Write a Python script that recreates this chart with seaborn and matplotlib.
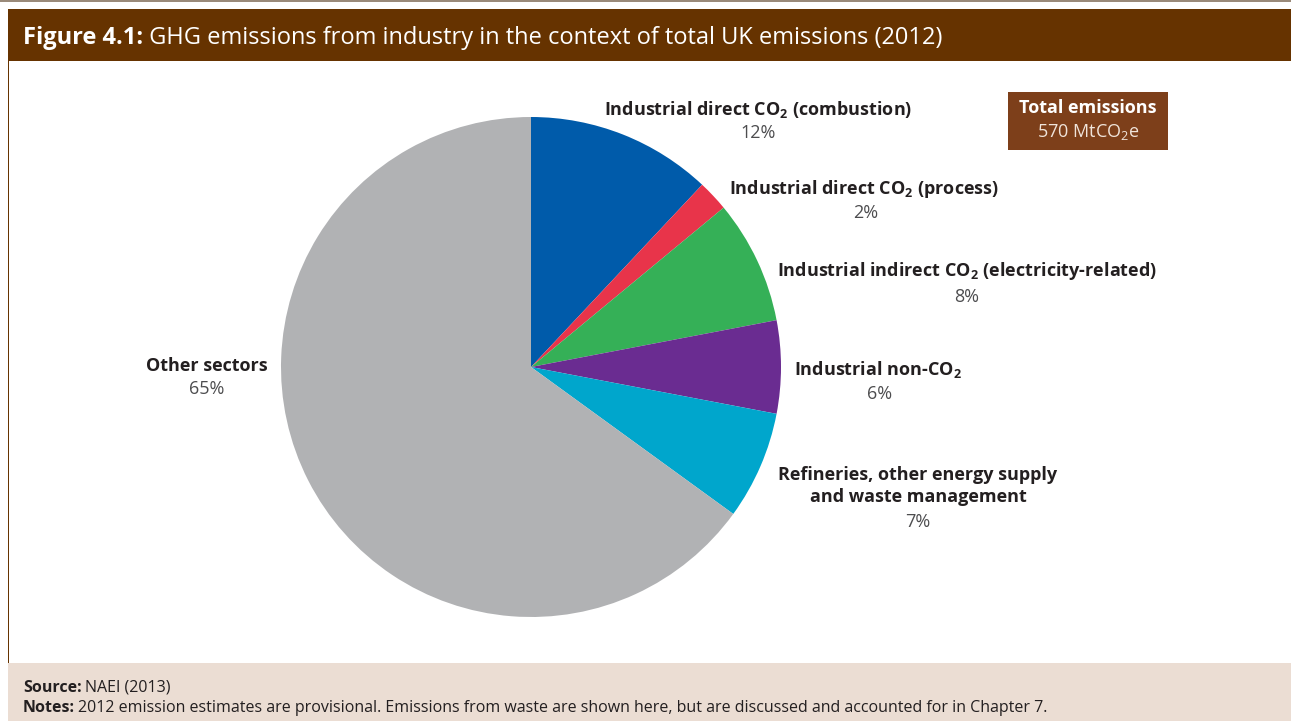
import matplotlib
matplotlib.use("Agg")
import matplotlib.pyplot as plt
import seaborn as sns
from matplotlib.patches import Rectangle

# ---- data ----
categories = [
    "Industrial direct CO$_\\mathbf{2}$ (combustion)",
    "Industrial direct CO$_\\mathbf{2}$ (process)",
    "Industrial indirect CO$_\\mathbf{2}$ (electricity-related)",
    "Industrial non-CO$_\\mathbf{2}$",
    "Refineries, other energy supply\nand waste management",
    "Other sectors",
]
shares = [12, 2, 8, 6, 7, 65]
pct_labels = ["12%", "2%", "8%", "6%", "7%", "65%"]
colors = ["#005BAA", "#E8344A", "#35B057", "#6A2C91", "#00A6CC", "#B1B2B4"]

title_bold = "Figure 4.1:"
title_rest = " GHG emissions from industry in the context of total UK emissions (2012)"
total_title = "Total emissions"
total_value = "570 MtCO$_2$e"
source_text = "NAEI (2013)"
notes_text = ("2012 emission estimates are provisional. Emissions from waste are shown here, "
              "but are discussed and accounted for in Chapter 7.")

# ---- style ----
sns.set_theme(style="white")
plt.rcParams["font.family"] = ["Open Sans", "DejaVu Sans"]
plt.rcParams["mathtext.fontset"] = "custom"
plt.rcParams["mathtext.rm"] = "Open Sans"
plt.rcParams["mathtext.it"] = "Open Sans"
plt.rcParams["mathtext.bf"] = "Open Sans:bold"

W, H = 1291, 721
fig = plt.figure(figsize=(W / 100, H / 100), dpi=100)
fig.patch.set_facecolor("white")

# background axes in pixel coordinates
bg = fig.add_axes([0, 0, 1, 1])
bg.set_xlim(0, W)
bg.set_ylim(H, 0)
bg.axis("off")

BROWN = "#663300"
bg.add_patch(Rectangle((0, 0), W, 1.5, color="#9A8A7A", lw=0))
bg.add_patch(Rectangle((8, 9), W - 8, 52, color=BROWN, lw=0))
bg.add_patch(Rectangle((8, 61), 1.3, 602, color=BROWN, lw=0))
bg.add_patch(Rectangle((8, 663), W - 8, 58, color="#EBDDD3", lw=0))

blend = matplotlib.transforms.blended_transform_factory(
    matplotlib.transforms.IdentityTransform(), bg.transData)

t1 = bg.text(23, 38, title_bold, color="white", fontsize=17, fontweight="bold",
             va="center", ha="left")
fig.canvas.draw()
x_end = t1.get_window_extent().x1
bg.text(x_end, 38, title_rest, color="white", fontsize=17, va="center", ha="left",
        transform=blend)

# total emissions box
bg.add_patch(Rectangle((1008, 92), 160, 58, color="#7D3F1A", lw=0))
bg.text(1088, 108, total_title, color="white", fontsize=13, fontweight="bold",
        ha="center", va="center")
bg.text(1088, 132, total_value, color="#F0E4DA", fontsize=13, ha="center", va="center")

# footer
def bold_then(x, y, bold, rest):
    t = bg.text(x, y, bold, fontsize=11.5, fontweight="bold", color="#231F20",
                ha="left", va="center")
    fig.canvas.draw()
    xe = t.get_window_extent().x1
    bg.text(xe + 3, y, rest, fontsize=11.5, color="#231F20", ha="left", va="center",
            transform=blend)

bold_then(23, 688, "Source:", source_text)
bold_then(23, 708, "Notes:", notes_text)

# pie axes: centre (531, 367), radius 250 px
cx, cy, r = 531, 367, 250
ax = fig.add_axes([(cx - r) / W, (H - cy - r) / H, 2 * r / W, 2 * r / H])
ax.pie(shares, colors=colors, startangle=90, counterclock=False, radius=1,
       wedgeprops=dict(linewidth=0))
ax.set_xlim(-1, 1)
ax.set_ylim(-1, 1)
ax.set_aspect("equal")
ax.axis("off")

# labels (pixel positions of label centres)
label_pos = [(758, 110), (864, 189), (967, 271), (878, 370), (918, 486), (207, 366)]
pct_pos = [(758, 133), (866, 213), (967, 297), (880, 394), (918, 522), (207, 389)]
for cat, (lx, ly), pct, (px, py) in zip(categories, label_pos, pct_labels, pct_pos):
    bg.text(lx, ly, cat, fontsize=13, fontweight="bold", color="#231F20",
            ha="center", va="center", linespacing=1.3)
    bg.text(px, py, pct, fontsize=13, color="#4D4D4F", ha="center", va="center")

fig.savefig("out.png", dpi=100)
